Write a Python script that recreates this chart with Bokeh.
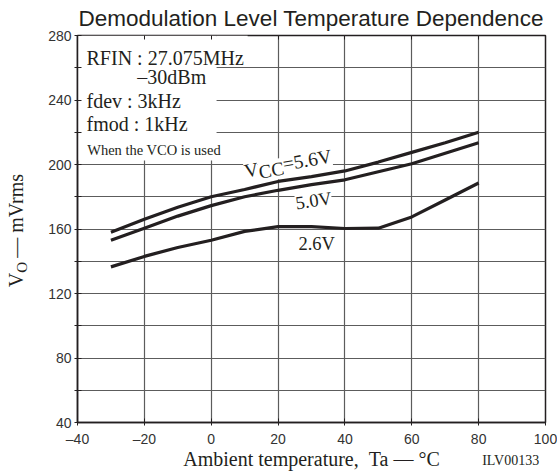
import math
from bokeh.plotting import figure
from bokeh.models import Range1d, FixedTicker, LinearAxis, Label, BoxAnnotation
from bokeh.embed import file_html
from bokeh.resources import INLINE

# ---- data ----
temps = [-30, -20, -10, 0, 10, 20, 30, 40, 50, 60, 70, 80]
vcc_56 = [158, 166, 173.5, 180, 184.5, 189.5, 192.5, 196, 201.5, 207.5, 213.5, 220]
vcc_50 = [153, 160.5, 168, 174.5, 180, 184, 187.5, 190.5, 195.5, 200.5, 207, 213.5]
vcc_26 = [136.5, 143, 148.5, 153, 158.5, 161.5, 161.5, 160.3, 160.5, 167.5, 178, 188.5]

x_ticks = [-40, -20, 0, 20, 40, 60, 80, 100]
x_tick_labels = ["–40", "–20", "0", "20", "40", "60", "80", "100"]
y_ticks = [40, 60, 80, 100, 120, 140, 160, 180, 200, 220, 240, 260, 280]
y_tick_labels = ["40", "", "80", "", "120", "", "160", "", "200", "", "240", "", "280"]

SERIF = "Liberation Serif"
SANS = "Liberation Sans"
INK = "#231f20"
GRID = "#5c5c5c"
NB = "\u00a0"

p = figure(frame_width=468, frame_height=387,
           min_border_left=77, min_border_right=12, min_border_top=35, min_border_bottom=49,
           x_range=Range1d(-40, 100), y_range=Range1d(40, 280),
           output_backend="svg", toolbar_location=None,
           background_fill_color="white", border_fill_color="white")

p.outline_line_color = INK
p.outline_line_width = 1.5

for ax in (p.xaxis[0], p.yaxis[0]):
    ax.axis_line_color = INK
    ax.axis_line_width = 1.5
    ax.major_tick_line_color = INK
    ax.major_tick_in = 4
    ax.major_tick_out = 3
    ax.minor_tick_line_color = None
    ax.major_label_text_font = SANS
    ax.major_label_text_font_size = "14px"
    ax.major_label_text_color = "#333333"

p.xaxis.ticker = FixedTicker(ticks=x_ticks)
p.xaxis.major_label_overrides = {t: l for t, l in zip(x_ticks, x_tick_labels)}
p.xaxis.major_label_standoff = 5
p.yaxis.ticker = FixedTicker(ticks=y_ticks)
p.yaxis.major_label_overrides = {t: l for t, l in zip(y_ticks, y_tick_labels)}
p.yaxis.major_label_standoff = 3

top = LinearAxis(ticker=FixedTicker(ticks=x_ticks), major_tick_in=4, major_tick_out=0,
                 major_label_text_alpha=0, major_label_text_font_size="1px",
                 major_label_standoff=0,
                 axis_line_color=None, minor_tick_line_color=None,
                 major_tick_line_color=INK)
p.add_layout(top, "above")

p.xgrid.ticker = FixedTicker(ticks=x_ticks)
p.ygrid.ticker = FixedTicker(ticks=y_ticks)
for g in (p.xgrid[0], p.ygrid[0]):
    g.grid_line_color = GRID
    g.grid_line_width = 1.2

# white area behind the condition notes
p.add_layout(BoxAnnotation(left=-40, right=1.6, bottom=202.5, top=280,
                           fill_color="white", fill_alpha=1, line_color=None, level="underlay"))
p.add_layout(BoxAnnotation(left=1.6, right=10.9, bottom=260.8, top=280,
                           fill_color="white", fill_alpha=1, line_color=None, level="underlay"))

def lab(text, x, y, size, font=SERIF, angle=0.0, xo=0, yo=0, bg=None, align="left",
        level="underlay", place="center", lh=None):
    # nudge so that the given y is the text's baseline
    shift = 0.33 * size
    xo = xo - shift * math.sin(angle)
    yo = yo + shift * math.cos(angle)
    kw = dict(x=x, y=y, text=text, text_font=font, text_font_size=f"{size}px",
              text_color=INK, angle=angle, x_offset=xo, y_offset=yo,
              text_baseline="alphabetic", text_align=align, level=level)
    if bg:
        kw["background_fill_color"] = bg
    if lh is not None:
        kw["text_line_height"] = lh
    p.add_layout(Label(**kw), place)

# condition notes
lab("RFIN : 27.075MHz", -37.3, 262.0, 20)
lab("–30dBm", -22.1, 250.0, 20)
lab("fdev : 3kHz", -37.3, 235.5, 20)
lab("fmod : 1kHz", -37.3, 221.1, 20)
lab("When the VCO is used", -37.1, 206.2, 14.5)

# curves
for ys in (vcc_56, vcc_50, vcc_26):
    p.line(temps, ys, line_color=INK, line_width=3.2)

# curve labels
th = math.radians(10)
def rot(d, s, t):
    return d * math.cos(t) + s * math.sin(t), d * math.sin(t) - s * math.cos(t)
lab("V", 10.25, 191.9, 19.5, angle=th, bg="white")
ox, oy = rot(14.0, 3.5, th)
lab("CC", 10.25, 191.9, 19, angle=th, xo=ox, yo=oy, bg="white")
ox, oy = rot(39.0, 0, th)
lab("=5.6V", 10.25, 191.9, 19.5, angle=th, xo=ox, yo=oy, bg="white")
lab("5.0V", 25.5, 172.1, 18.5, angle=math.radians(8.5), bg="white")
lab("2.6V", 26.1, 146.7, 18.5, bg="white")

# title and axis titles: outside the frame, so they go in side panels (not clipped)
lab("Demodulation Level Temperature Dependence", -39.7, 286.2, 22.5, font=SANS,
    level="annotation", place="above")
lab("Ambient temperature," + NB + NB + "Ta — °C", 30, 13.3, 20, align="center",
    level="annotation", place="below")
lab("ILV00133", 81.05, 13.3, 14, level="annotation", place="right", lh=0.5)
lab("V" + NB * 3 + "— mVrms", -56.3, 123.9, 20, angle=math.pi / 2, level="annotation", place="left")
lab("O", -56.3, 123.9, 15, angle=math.pi / 2, xo=4, yo=14.4, level="annotation", place="left")

open("out.html", "w").write(file_html(p, INLINE))
